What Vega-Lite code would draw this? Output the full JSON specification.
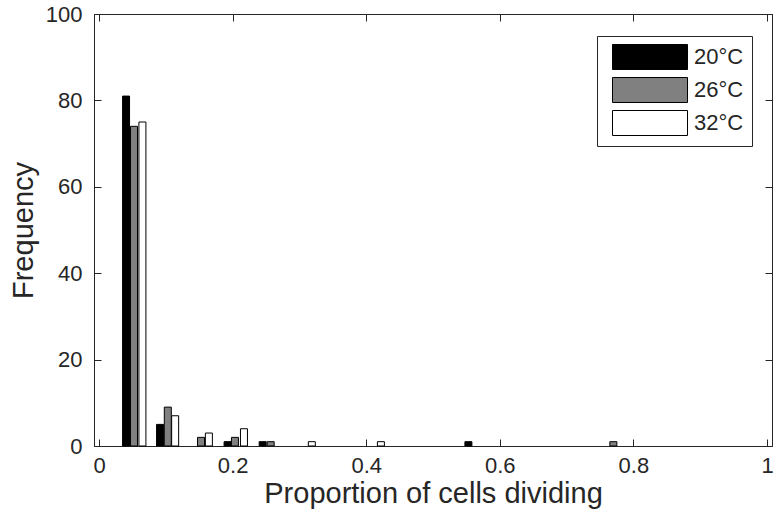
{
  "$schema": "https://vega.github.io/schema/vega-lite/v6.json",
  "width": 678,
  "height": 432,
  "autosize": {"type": "none"},
  "padding": {"left": 94, "top": 14, "right": 6, "bottom": 76},
  "background": "white",
  "config": {
    "font": "Liberation Sans",
    "view": {"stroke": "#262626", "strokeWidth": 1},
    "axis": {
      "domainColor": "#262626",
      "tickColor": "#262626",
      "labelColor": "#262626",
      "titleColor": "#262626",
      "labelFont": "Liberation Sans",
      "titleFont": "Liberation Sans",
      "labelFontSize": 22,
      "titleFontSize": 29,
      "titleFontWeight": "normal",
      "grid": false,
      "tickSize": -7
    }
  },
  "data": {
    "values": [
      {"p": 0.0405, "freq": 81, "temp": "20°C"},
      {"p": 0.0524, "freq": 74, "temp": "26°C"},
      {"p": 0.065, "freq": 75, "temp": "32°C"},
      {"p": 0.0914, "freq": 5, "temp": "20°C"},
      {"p": 0.103, "freq": 9, "temp": "26°C"},
      {"p": 0.114, "freq": 7, "temp": "32°C"},
      {"p": 0.1527, "freq": 2, "temp": "26°C"},
      {"p": 0.1645, "freq": 3, "temp": "32°C"},
      {"p": 0.1925, "freq": 1, "temp": "20°C"},
      {"p": 0.2035, "freq": 2, "temp": "26°C"},
      {"p": 0.217, "freq": 4, "temp": "32°C"},
      {"p": 0.245, "freq": 1, "temp": "20°C"},
      {"p": 0.257, "freq": 1, "temp": "26°C"},
      {"p": 0.3186, "freq": 1, "temp": "32°C"},
      {"p": 0.422, "freq": 1, "temp": "32°C"},
      {"p": 0.553, "freq": 1, "temp": "20°C"},
      {"p": 0.77, "freq": 1, "temp": "26°C"}
    ]
  },
  "layer": [
    {
      "mark": {"type": "bar", "size": 7, "stroke": "black", "strokeWidth": 1},
      "encoding": {
        "x": {
          "field": "p", "type": "quantitative",
          "scale": {"domain": [0, 1], "nice": false, "zero": false},
          "axis": {"title": "Proportion of cells dividing", "values": [0, 0.2, 0.4, 0.6, 0.8, 1], "labelPadding": 16, "titlePadding": 3, "labelExpr": "datum.value == 1 ? '1' : format(datum.value, '.1f') == '0.0' ? '0' : format(datum.value, '.1f')"}
        },
        "y": {
          "field": "freq", "type": "quantitative",
          "scale": {"domain": [0, 100], "nice": false},
          "axis": {"title": "Frequency", "values": [0, 20, 40, 60, 80, 100], "labelPadding": 19, "titlePadding": 7}
        },
        "color": {
          "field": "temp", "type": "nominal",
          "scale": {"domain": ["20°C", "26°C", "32°C"], "range": ["#000000", "#808080", "#ffffff"]},
          "legend": {
            "title": null,
            "orient": "none",
            "legendX": 503,
            "legendY": 22,
            "symbolType": "M-0.44,-1H5.56V1H-0.44Z",
            "symbolSize": 625,
            "symbolStrokeColor": "black",
            "symbolStrokeWidth": 1,
            "symbolOpacity": 1,
            "labelFontSize": 22,
            "labelColor": "#262626",
            "labelFont": "Liberation Sans",
            "padding": 8,
            "strokeColor": "#262626",
            "fillColor": "white",
            "rowPadding": 3,
            "labelOffset": 63
          }
        }
      }
    },
    {
      "mark": {"type": "bar", "size": 7, "opacity": 0},
      "encoding": {
        "x": {"field": "p", "type": "quantitative", "axis": {"orient": "top", "labels": false, "title": null, "values": [0, 0.2, 0.4, 0.6, 0.8, 1]}},
        "y": {"field": "freq", "type": "quantitative", "axis": {"orient": "right", "labels": false, "title": null, "values": [0, 20, 40, 60, 80, 100]}}
      }
    }
  ],
  "resolve": {"axis": {"x": "independent", "y": "independent"}}
}
